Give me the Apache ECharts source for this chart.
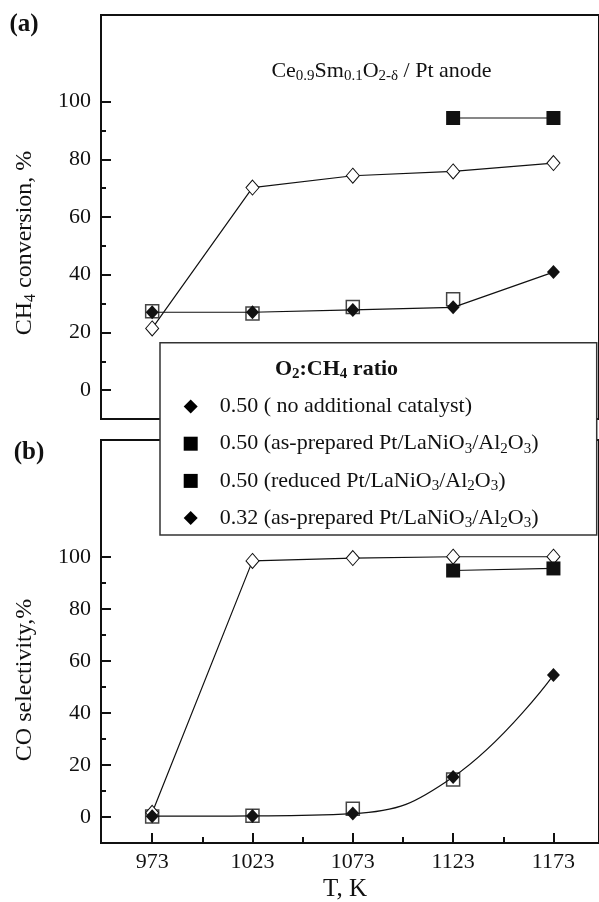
<!DOCTYPE html>
<html><head><meta charset="utf-8">
<script src="https://cdn.jsdelivr.net/npm/echarts@6/dist/echarts.min.js"></script>
<style>html,body{margin:0;padding:0;background:#fff}#c{width:599px;height:902px}</style>
</head><body><div id="c"></div><script>
// ---- data ----
const temps = [973, 1023, 1073, 1123, 1173];
const tempTickLabels = [973, 1023, 1073, 1123, 1173];
const tempMinorTicks = [998, 1048, 1098, 1148];
const yTickLabels = [0, 20, 40, 60, 80, 100];
const yMinorTicks = [10, 30, 50, 70, 90];
const nameNoCat = '0.50 ( no additional catalyst)';
const nameAsPrep050 = '0.50 (as-prepared Pt/LaNiO3/Al2O3)';
const nameReduced = '0.50 (reduced Pt/LaNiO3/Al2O3)';
const nameAsPrep032 = '0.32 (as-prepared Pt/LaNiO3/Al2O3)';
// (a) CH4 conversion, %
const convNoCat = [27.0, 27.0, 27.8, 28.7, 40.9];
const convAsPrep050 = [27.3, 26.6, 28.8, 31.5, null];
const convReduced = [null, null, null, 94.3, 94.3];
const convAsPrep032 = [21.4, 70.2, 74.3, 75.8, 78.7];
// (b) CO selectivity, %
const selNoCat = [0.3, 0.4, 1.3, 15.4, 54.6];
const selAsPrep050 = [0.2, 0.5, 3.2, 14.4, null];
const selReduced = [null, null, null, 94.8, 95.6];
const selAsPrep032 = [1.6, 98.5, 99.6, 100.1, 100.1];

const FONT = 'Liberation Serif';
const INK = '#111';
const pairs = arr => temps.map((t, i) => [t, arr[i]]).filter(p => p[1] !== null);

const chart = echarts.init(document.getElementById('c'), null, {renderer: 'canvas'});

const labelStyle = {fontFamily: FONT, fontSize: 22, color: INK, formatter: v => String(v)};
function xMain(grid, withTicks) {
  return {
    type: 'value', gridIndex: grid, position: 'bottom', min: 947.5, max: 1195.7,
    axisLine: {show: true, onZero: false, lineStyle: {color: INK, width: 2}},
    axisTick: {show: withTicks, inside: true, length: 10, lineStyle: {color: INK, width: 2}, customValues: tempTickLabels},
    axisLabel: {show: withTicks, margin: 8, customValues: tempTickLabels, ...labelStyle},
    splitLine: {show: false}
  };
}
function xMinor(grid) {
  return {
    type: 'value', gridIndex: grid, position: 'bottom', min: 947.5, max: 1195.7,
    axisLine: {show: false, onZero: false},
    axisTick: {show: true, inside: true, length: 6, lineStyle: {color: INK, width: 2}, customValues: tempMinorTicks},
    axisLabel: {show: false},
    splitLine: {show: false}
  };
}
function yMain(grid, max) {
  return {
    type: 'value', gridIndex: grid, position: 'left', min: -10, max: max,
    axisLine: {show: true, onZero: false, lineStyle: {color: INK, width: 2}},
    axisTick: {show: true, inside: true, length: 10, lineStyle: {color: INK, width: 2}, customValues: yTickLabels},
    axisLabel: {show: true, margin: 10, customValues: yTickLabels, ...labelStyle},
    splitLine: {show: false}
  };
}
function yMinor(grid, max) {
  return {
    type: 'value', gridIndex: grid, position: 'left', min: -10, max: max,
    axisLine: {show: false, onZero: false},
    axisTick: {show: true, inside: true, length: 5, lineStyle: {color: INK, width: 2}, customValues: yMinorTicks},
    axisLabel: {show: false},
    splitLine: {show: false}
  };
}

const openSquare = {color: '#fff', borderColor: '#444', borderWidth: 1.5};
const openDiamond = {color: '#fff', borderColor: INK, borderWidth: 1};
const filled = {color: INK, borderColor: INK, borderWidth: 0};
const legendFilled = {color: '#000', borderColor: '#000', borderWidth: 0, opacity: 1};
const lineSt = {color: INK, width: 1.2};

function panelSeries(xi, yi, noCat, asPrep050, reduced, asPrep032, smoothNoCat) {
  return [
    {name: nameAsPrep050, type: 'line', xAxisIndex: xi, yAxisIndex: yi, data: pairs(asPrep050),
     lineStyle: {width: 0, opacity: 0},
     symbol: 'rect', symbolSize: 13, showAllSymbol: true, itemStyle: openSquare, z: 2},
    {name: nameAsPrep032, type: 'line', xAxisIndex: xi, yAxisIndex: yi, data: pairs(asPrep032),
     symbol: 'diamond', symbolSize: [13, 15], showAllSymbol: true, itemStyle: openDiamond, lineStyle: lineSt, z: 3},
    {name: nameNoCat, type: 'line', xAxisIndex: xi, yAxisIndex: yi, data: pairs(noCat), smooth: smoothNoCat,
     symbol: 'diamond', symbolSize: [13, 14], showAllSymbol: true, itemStyle: filled, lineStyle: lineSt, z: 4},
    {name: nameReduced, type: 'line', xAxisIndex: xi, yAxisIndex: yi, data: pairs(reduced),
     symbol: 'rect', symbolSize: 14, showAllSymbol: true, itemStyle: filled, lineStyle: lineSt, z: 5}
  ];
}

const subRich = (size) => ({
  n: {fontFamily: FONT, fontSize: size, color: INK, lineHeight: 24},
  s: {fontFamily: FONT, fontSize: Math.round(size * 0.68), color: INK, lineHeight: 14, padding: [10, 0, 0, 0]}
});
const legendText = {};
legendText[nameNoCat] = '{n|0.50 ( no additional catalyst)}{s| }';
legendText[nameAsPrep050] = '{n|0.50 (as-prepared Pt/LaNiO}{s|3}{n|/Al}{s|2}{n|O}{s|3}{n|)}';
legendText[nameReduced] = '{n|0.50 (reduced Pt/LaNiO}{s|3}{n|/Al}{s|2}{n|O}{s|3}{n|)}';
legendText[nameAsPrep032] = '{n|0.32 (as-prepared Pt/LaNiO}{s|3}{n|/Al}{s|2}{n|O}{s|3}{n|)}';

const gRich = (size, bold) => ({
  n: {fontFamily: FONT, fontSize: size, fill: INK, fontWeight: bold ? 'bold' : 'normal', lineHeight: 26},
  s: {fontFamily: FONT, fontSize: Math.round(size * 0.68), fill: INK, fontWeight: bold ? 'bold' : 'normal', lineHeight: 15, padding: [11, 0, 0, 0]}
});

const option = {
  animation: false,
  backgroundColor: '#fff',
  grid: [
    {left: 101, top: 15, width: 500, height: 404, show: true, borderColor: INK, borderWidth: 2, backgroundColor: 'transparent'},
    {left: 101, top: 440, width: 500, height: 403, show: true, borderColor: INK, borderWidth: 2, backgroundColor: 'transparent'}
  ],
  xAxis: [xMain(0, false), xMain(1, true), xMinor(1)],
  yAxis: [yMain(0, 130), yMinor(0, 130), yMain(1, 145), yMinor(1, 145)],
  legend: {
    z: 60, selectedMode: false, orient: 'vertical', left: 183.7, top: 394, padding: 0,
    itemWidth: 14, itemHeight: 14, itemGap: 12.2, symbolKeepAspect: true,
    data: [
      {name: nameNoCat, icon: 'diamond', itemStyle: legendFilled},
      {name: nameAsPrep050, icon: 'rect', itemStyle: legendFilled},
      {name: nameReduced, icon: 'rect', itemStyle: legendFilled},
      {name: nameAsPrep032, icon: 'diamond', itemStyle: legendFilled}
    ],
    formatter: name => legendText[name],
    textStyle: {rich: subRich(22), padding: [0, 0, 0, 17]}
  },
  graphic: [
    {type: 'rect', z: 50, shape: {x: 160, y: 342.7, width: 436.7, height: 192.3},
     style: {fill: '#fff', stroke: '#333', lineWidth: 1.5}},
    {type: 'text', z: 61, x: 336.5, y: 369,
     style: {text: '{n|O}{s|2}{n|:CH}{s|4}{n| ratio}', rich: gRich(22, true), align: 'center', verticalAlign: 'middle'}},
    {type: 'text', z: 61, x: 381.5, y: 71,
     style: {text: '{n|Ce}{s|0.9}{n|Sm}{s|0.1}{n|O}{s|2-δ}{n| / Pt anode}', rich: gRich(22, false), align: 'center', verticalAlign: 'middle'}},
    {type: 'text', z: 61, x: 24, y: 25,
     style: {text: '(a)', font: 'bold 25px "Liberation Serif"', fill: INK, align: 'center', verticalAlign: 'middle'}},
    {type: 'text', z: 61, x: 29, y: 453,
     style: {text: '(b)', font: 'bold 25px "Liberation Serif"', fill: INK, align: 'center', verticalAlign: 'middle'}},
    {type: 'text', z: 61, x: 25, y: 243, rotation: Math.PI / 2,
     style: {text: '{n|CH}{s|4}{n| conversion, %}', rich: gRich(24, false), align: 'center', verticalAlign: 'middle'}},
    {type: 'text', z: 61, x: 25, y: 680, rotation: Math.PI / 2,
     style: {text: 'CO selectivity,%', font: '24px "Liberation Serif"', fill: INK, align: 'center', verticalAlign: 'middle'}},
    {type: 'text', z: 61, x: 345, y: 889,
     style: {text: 'T, K', font: '25px "Liberation Serif"', fill: INK, align: 'center', verticalAlign: 'middle'}}
  ],
  series: [
    ...panelSeries(0, 0, convNoCat, convAsPrep050, convReduced, convAsPrep032, false),
    ...panelSeries(1, 2, selNoCat, selAsPrep050, selReduced, selAsPrep032, 0.45)
  ]
};
chart.setOption(option);
</script></body></html>
